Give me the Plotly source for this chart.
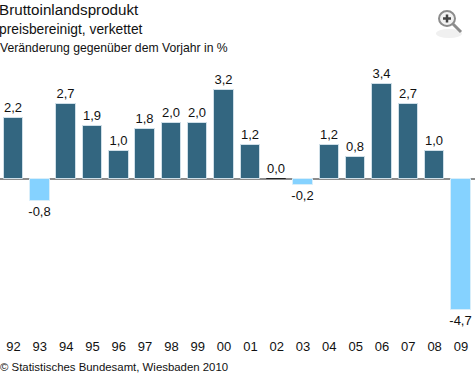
import plotly.graph_objects as go

years = ["92","93","94","95","96","97","98","99","00","01","02","03","04","05","06","07","08","09"]
values = [2.2,-0.8,2.7,1.9,1.0,1.8,2.0,2.0,3.2,1.2,0.0,-0.2,1.2,0.8,3.4,2.7,1.0,-4.7]
labels = [f"{v:.1f}".replace(".", ",") for v in values]
title = "Bruttoinlandsprodukt"
subtitle = "preisbereinigt, verkettet"
note = "Veränderung gegenüber dem Vorjahr in %"
source = "© Statistisches Bundesamt, Wiesbaden 2010"

POS = "#336680"
NEG = "#85d2ff"
FONT = "Liberation Sans"
W, H = 475, 373
TOP, BOTTOM = 60, 331
ZERO = 179
SCALE = 27.95
PITCH = 26.32
X0 = 13.5

colors = [NEG if v < 0 else POS for v in values]
edges = ["#222222" if v == 0 else ("#d8eefa" if v < 0 else "#cfdfe8") for v in values]

fig = go.Figure(go.Bar(
    x=list(range(len(values))), y=values, width=19.5/PITCH,
    marker=dict(color=colors, line=dict(color=edges, width=1)),
    text=labels, textposition="outside", cliponaxis=False, constraintext="none",
    textfont=dict(family=FONT, size=13, color="#111111"),
    hoverinfo="skip",
))

fig.update_layout(
    width=W, height=H, autosize=False,
    margin=dict(l=0, r=0, t=TOP, b=H-BOTTOM),
    paper_bgcolor="white", plot_bgcolor="white",
    showlegend=False, bargap=0,
    font=dict(family=FONT, color="#111111"),
    xaxis=dict(
        range=[-X0/PITCH, (W-X0)/PITCH],
        tickmode="array", tickvals=list(range(len(years))), ticktext=years,
        tickfont=dict(family=FONT, size=13, color="#111111"),
        ticks="", showgrid=False, zeroline=False, showline=False,
        ticklabelstandoff=6,
    ),
    yaxis=dict(
        range=[(ZERO-BOTTOM)/SCALE, (ZERO-TOP)/SCALE],
        visible=True, showticklabels=False, ticks="", showgrid=False,
        showline=False, zeroline=True, zerolinecolor="#8c8c8c", zerolinewidth=2,
    ),
)

def py(y):
    return (BOTTOM - y) / (BOTTOM - TOP)

def text(s, x, y, size):
    fig.add_annotation(text=s, x=x/W, y=py(y), xref="paper", yref="paper",
                       xanchor="left", yanchor="middle", showarrow=False,
                       xshift=-1, borderpad=0,
                       font=dict(family=FONT, size=size, color="#111111"))

text(title, -1, 9, 15.2)
text(subtitle, -1, 29, 13.8)
text(note, 0, 48, 12.2)
text(source, 0, 367, 11.4)

def seg(x1, y1, x2, y2, color, width):
    fig.add_shape(type="line", xref="paper", yref="paper",
                  x0=x1/W, y0=py(y1), x1=x2/W, y1=py(y2),
                  line=dict(color=color, width=width))

fig.add_shape(type="circle", xref="paper", yref="paper",
              x0=436/W, x1=462/W, y0=py(38), y1=py(29),
              line=dict(width=0), fillcolor="#f0f0f0")
fig.add_shape(type="circle", xref="paper", yref="paper",
              x0=439/W, x1=455/W, y0=py(26), y1=py(11),
              line=dict(color="#8c8c8c", width=2), fillcolor="#f2f2f2")
seg(453, 24, 461, 32, "#8c8c8c", 3)
seg(443, 18.5, 451, 18.5, "#444444", 2.5)
seg(447, 14.5, 447, 22.5, "#444444", 2.5)

fig.write_html("out.html", config={"displayModeBar": False},
               post_script="document.body.style.margin='0';document.body.style.overflow='hidden';")
